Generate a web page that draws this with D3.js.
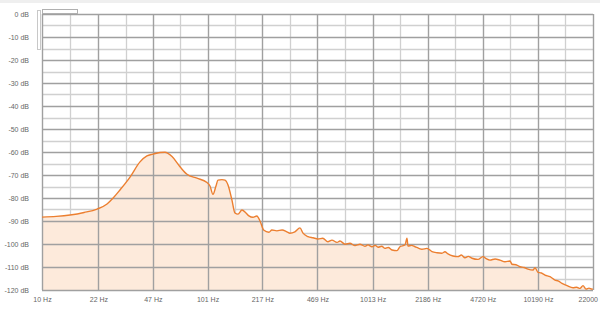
<!DOCTYPE html>
<html>
<head>
<meta charset="utf-8">
<script src="https://cdn.jsdelivr.net/npm/d3@7"></script>
<style>
	body { margin: 0; background: #fff; }
	#root { width: 600px; height: 309px; overflow: hidden; }
	text { font-family: "Liberation Sans", Arial, sans-serif; }
</style>
</head>
<body>
<div id="root"></div>
<script>
const C = {
	height: 309,
	width: 600,
	margin: { top: 14, right: 7, bottom: 19, left: 42 },
	line: '#ec7f30',
	fill: '#fdeadb',
	gridDark: '#a0a0a0',
	gridLight: '#d0d0d0',
	label: '#666'
}

// frequency ticks shown on the x axis
const freqTicks = [10, 22, 47, 101, 217, 469, 1013, 2186, 4720, 10190, 22000]
// level ticks on the y axis
const dbTicks = [0, -10, -20, -30, -40, -50, -60, -70, -80, -90, -100, -110, -120]

// spectrum: frequency in Hz, level in dB
const freqs = [10, 12.2, 14.8, 18, 21.6, 24.8, 27, 29.7, 34.2, 39.3, 43.3, 47.1, 52, 55.7,
	61.5, 68.7, 75.8, 87.1, 100.2, 104.5, 108.9, 113.6, 116.8, 123.5, 128.8, 134.4, 142, 148,
	154.5, 163.3, 172.7, 180, 190.5, 201, 211, 221, 238, 248, 266, 286, 306, 319, 342, 367,
	383, 411, 441, 472, 505, 542, 574, 616, 642, 689, 738, 792, 849, 910, 949, 1004, 1050,
	1092, 1150, 1204, 1260, 1328, 1423, 1484, 1592, 1637, 1660, 1745, 1830, 1920, 2018, 2164,
	2321, 2489, 2669, 2780, 2901, 3111, 3337, 3500, 3680, 3850, 4058, 4413, 4732, 4950, 5218,
	5600, 6000, 6435, 6900, 7097, 7500, 7935, 8400, 8875, 9517, 9785, 10200, 10700, 11250,
	12070, 12940, 13500, 14270, 15310, 16640, 17500, 18350, 19130, 19950, 20800, 21700, 22000]
const levels = [-88.3, -88.0, -87.4, -86.3, -84.8, -82.6, -80.0, -76.5, -70.9, -64.3, -61.7, -60.9, -60.2, -60.1,
	-62.0, -66.4, -69.7, -71.4, -73.3, -74.8, -78.4, -74.8, -72.2, -72.0, -72.2, -74.3, -80.9, -86.5,
	-87.0, -85.2, -86.5, -87.8, -88.4, -87.8, -90.3, -93.9, -94.9, -93.9, -94.3, -93.9, -94.7, -95.3, -94.7, -93.0,
	-95.3, -96.8, -97.3, -97.8, -97.5, -99.0, -98.3, -99.3, -98.7, -100.1, -99.7, -100.7, -100.1, -101.0, -100.4, -101.2, -100.6,
	-101.4, -101.0, -101.9, -101.5, -102.6, -102.9, -101.2, -100.4, -97.5, -100.9, -100.6, -101.2, -101.8, -102.3, -101.9,
	-103.3, -103.8, -104.0, -103.4, -104.3, -105.2, -105.5, -104.8, -106.0, -105.4, -106.2, -106.7, -105.5, -106.4, -107.0,
	-106.5, -107.0, -107.7, -107.4, -108.8, -109.0, -109.9, -110.2, -110.9, -111.3, -110.3, -112.3, -112.6, -113.5,
	-114.2, -115.7, -116.0, -117.1, -118.1, -119.0, -118.8, -119.3, -118.1, -119.6, -119.2, -119.6, -119.6]

const data = freqs.map((f, i) => ({ f: f, db: levels[i] }))

const container = d3.select('#root')

const svg = container.append('svg')
	.attr('height', C.height)
	.attr('width', C.width)

// light strip at the very top
svg.append('rect')
	.attr('x', 0).attr('y', 0)
	.attr('width', C.width).attr('height', 3)
	.attr('fill', '#efefef')

drawSpectrum(data)

function drawSpectrum(data) {
	const m = C.margin,
		w = C.width - m.left - m.right,
		h = C.height - m.top - m.bottom

	const g = svg.append('g')
		.attr('transform', `translate(${m.left},${m.top})`)

	const xScale = d3.scaleLog()
		.domain([freqTicks[0], freqTicks[freqTicks.length - 1]])
		.range([0, w])

	const yScale = d3.scaleLinear()
		.domain([-120, 0])
		.range([h, 0])

	// -- grid --
	const halfFreqs = d3.pairs(freqTicks).map(p => Math.sqrt(p[0] * p[1]))
	const halfDbs = d3.pairs(dbTicks).map(p => (p[0] + p[1]) / 2)

	g.append('g').selectAll('line')
		.data(halfFreqs)
		.join('line')
		.attr('x1', d => Math.round(xScale(d)) + 0.5)
		.attr('x2', d => Math.round(xScale(d)) + 0.5)
		.attr('y1', 0).attr('y2', h)
		.attr('stroke', C.gridLight)
		.attr('stroke-width', 1.3)

	g.append('g').selectAll('line')
		.data(halfDbs)
		.join('line')
		.attr('y1', d => Math.round(yScale(d)) + 0.5)
		.attr('y2', d => Math.round(yScale(d)) + 0.5)
		.attr('x1', 0).attr('x2', w)
		.attr('stroke', C.gridLight)
		.attr('stroke-width', 1.3)

	// -- area + line --
	const area = d3.area()
		.x(d => xScale(d.f))
		.y0(h)
		.y1(d => yScale(d.db))
		.curve(d3.curveMonotoneX)

	const line = d3.line()
		.x(d => xScale(d.f))
		.y(d => yScale(d.db))
		.curve(d3.curveMonotoneX)

	g.append('path')
		.datum(data)
		.attr('d', area)
		.attr('fill', C.fill)

	g.append('g').selectAll('line')
		.data(freqTicks)
		.join('line')
		.attr('x1', d => Math.round(xScale(d)) + 0.5)
		.attr('x2', d => Math.round(xScale(d)) + 0.5)
		.attr('y1', 0).attr('y2', h)
		.attr('stroke', C.gridDark)
		.attr('stroke-width', 1.4)

	g.append('g').selectAll('line')
		.data(dbTicks)
		.join('line')
		.attr('y1', d => Math.round(yScale(d)) + 0.5)
		.attr('y2', d => Math.round(yScale(d)) + 0.5)
		.attr('x1', 0).attr('x2', w)
		.attr('stroke', C.gridDark)
		.attr('stroke-width', 1.4)

	g.append('path')
		.datum(data)
		.attr('d', line)
		.attr('fill', 'none')
		.attr('stroke', C.line)
		.attr('stroke-width', 1.4)
		.attr('stroke-linejoin', 'round')

	// -- axis ---
	const axisX = d3.axisBottom(xScale)
			.tickValues(freqTicks)
			.tickFormat(d => d + ' Hz')
			.tickSize(0)
			.tickPadding(7),
		axisY = d3.axisLeft(yScale)
			.tickValues(dbTicks)
			.tickFormat(d => d + ' dB')
			.tickSize(0)
			.tickPadding(13)

	g.append('g')
		.attr('class', 'axisX')
		.attr('transform', `translate(0,${h})`)
		.call(axisX)

	g.append('g')
		.attr('class', 'axisY')
		.call(axisY)

	g.selectAll('.domain').remove()
	g.selectAll('.tick text')
		.attr('fill', C.label)
		.style('font-size', '7px')
		.style('font-family', '"Liberation Sans", Arial, sans-serif')

	// small scroller box and bar at the top left
	svg.append('rect')
		.attr('x', m.left + 0.5).attr('y', 9.5)
		.attr('width', 35).attr('height', 4)
		.attr('fill', '#fff')
		.attr('stroke', '#b0b0b0')
	svg.append('rect')
		.attr('x', m.left - 4.5).attr('y', 10.5)
		.attr('width', 3).attr('height', 39)
		.attr('fill', '#fff')
		.attr('stroke', '#c8c8c8')
}
</script>
</body>
</html>
